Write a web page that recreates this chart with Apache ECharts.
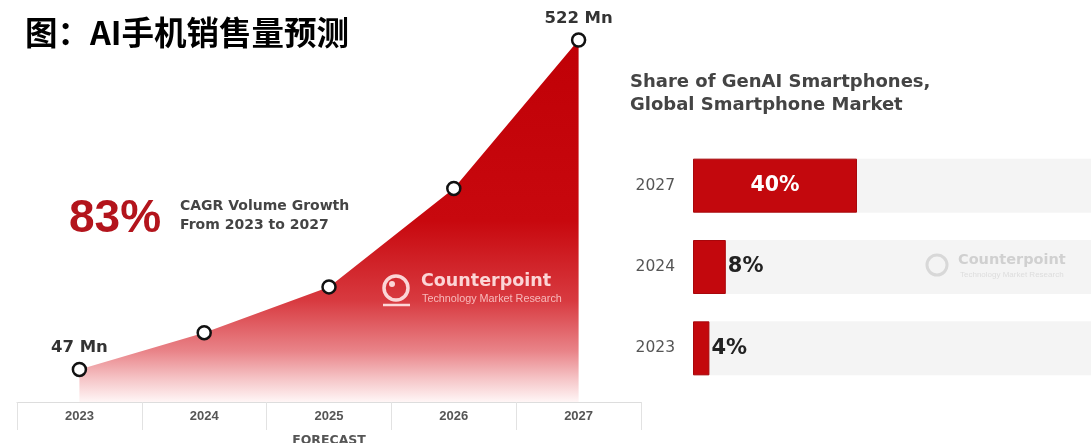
<!DOCTYPE html>
<html>
<head>
<meta charset="utf-8">
<script src="https://cdn.jsdelivr.net/npm/echarts@6/dist/echarts.min.js"></script>
<style>
  html, body { margin: 0; padding: 0; background: #fff; }
  #chart { width: 1091px; height: 443px; }
</style>
</head>
<body>
<div id="chart"></div>
<script>
// AI smartphone shipments (millions), 2023 actual to 2027 forecast
const years = ['2023', '2024', '2025', '2026', '2027'];
const shipments = [47, 100, 166, 308, 522];

// Share of GenAI smartphones in the global smartphone market (%)
const shareYears = ['2023', '2024', '2027'];
const shareValues = [4, 8, 40];

const FONT = 'Arial, "Liberation Sans", sans-serif';
const WIDE = '"DejaVu Sans", Verdana, sans-serif';
const RED = '#c3080d';
const MARK_LIGHT = 'rgba(255,232,232,0.9)';

const chart = echarts.init(document.getElementById('chart'));

const option = {
  animation: false,
  backgroundColor: '#ffffff',
  grid: [
    { left: 17, width: 624, top: 40, bottom: 41, outerBoundsMode: 'none', containLabel: false },
    { left: 693, width: 410, top: 145, height: 244, outerBoundsMode: 'none', containLabel: false }
  ],
  xAxis: [
    {
      type: 'category',
      gridIndex: 0,
      data: years,
      boundaryGap: true,
      axisLine: { lineStyle: { color: '#dddddd', width: 1 } },
      axisTick: { show: true, interval: 0, length: 28, lineStyle: { color: '#e2e2e2' } },
      axisLabel: {
        color: '#555', fontFamily: FONT, fontSize: 13, fontWeight: 'bold', margin: 8
      },
      name: 'FORECAST',
      nameLocation: 'middle',
      nameGap: 32,
      nameTextStyle: { color: '#555', fontFamily: WIDE, fontSize: 12.5, fontWeight: 'bold' }
    },
    {
      type: 'value',
      gridIndex: 1,
      min: 0,
      max: 100,
      show: false
    }
  ],
  yAxis: [
    { type: 'value', gridIndex: 0, min: 0, max: 522, show: false },
    {
      type: 'category',
      gridIndex: 1,
      data: shareYears,
      axisLine: { show: false },
      axisTick: { show: false },
      axisLabel: { color: '#555', fontFamily: WIDE, fontSize: 15.5, margin: 18 }
    }
  ],
  graphic: [
    {
      type: 'text', x: 25, y: 16, z: 100,
      style: {
        text: '图：AI手机销售量预测',
        fill: '#000', fontSize: 32.5, fontWeight: 'bold',
        fontFamily: '"Noto Sans CJK SC", sans-serif'
      }
    },
    {
      type: 'text', x: 69, y: 196, z: 100,
      style: { text: '83%', fill: '#b3141c', fontSize: 46, fontWeight: 'bold', fontFamily: FONT }
    },
    {
      type: 'text', x: 180, y: 197, z: 100,
      style: {
        text: 'CAGR Volume Growth\nFrom 2023 to 2027',
        fill: '#444', fontSize: 14, fontWeight: 'bold', lineHeight: 19, fontFamily: WIDE
      }
    },
    {
      type: 'text', x: 630, y: 71, z: 100,
      style: {
        text: 'Share of GenAI Smartphones,\nGlobal Smartphone Market',
        fill: '#444', fontSize: 18, fontWeight: 'bold', lineHeight: 23, fontFamily: WIDE
      }
    },
    // Counterpoint mark on the area
    { type: 'circle', z: 100, shape: { cx: 396, cy: 288, r: 12 },
      style: { fill: 'none', stroke: MARK_LIGHT, lineWidth: 3.5 } },
    { type: 'circle', z: 100, shape: { cx: 392, cy: 284, r: 3 },
      style: { fill: MARK_LIGHT } },
    { type: 'line', z: 100, shape: { x1: 383, y1: 305, x2: 410, y2: 305 },
      style: { stroke: MARK_LIGHT, lineWidth: 2.5 } },
    { type: 'text', z: 100, x: 421, y: 272,
      style: { text: 'Counterpoint', fill: 'rgba(255,228,228,0.92)', fontSize: 17.5,
               fontWeight: 'bold', fontFamily: WIDE } },
    { type: 'text', z: 100, x: 422, y: 294,
      style: { text: 'Technology Market Research', fill: 'rgba(255,215,215,0.8)',
               fontSize: 10.8, fontFamily: FONT } },
    // Counterpoint mark on the share panel
    { type: 'circle', z: 100, shape: { cx: 937, cy: 265, r: 10 },
      style: { fill: 'none', stroke: '#d8d8d8', lineWidth: 3 } },
    { type: 'text', z: 100, x: 958, y: 253,
      style: { text: 'Counterpoint', fill: '#d0d0d0', fontSize: 14.5,
               fontWeight: 'bold', fontFamily: WIDE } },
    { type: 'text', z: 100, x: 960, y: 271,
      style: { text: 'Technology Market Research', fill: '#dddddd',
               fontSize: 8, fontFamily: FONT } }
  ],
  series: [
    {
      type: 'line',
      xAxisIndex: 0,
      yAxisIndex: 0,
      data: shipments.map((v, i) => ({
        value: v,
        label: {
          show: i === 0 || i === shipments.length - 1,
          formatter: v + ' Mn'
        }
      })),
      symbol: 'circle',
      symbolSize: 13,
      itemStyle: { color: '#ffffff', borderColor: '#111', borderWidth: 2.5 },
      lineStyle: { width: 0, opacity: 0 },
      label: {
        position: 'top', distance: 5,
        color: '#333', fontFamily: WIDE, fontSize: 16.5, fontWeight: 'bold'
      },
      areaStyle: {
        opacity: 1,
        color: new echarts.graphic.LinearGradient(0, 0, 0, 1, [
          { offset: 0, color: '#c00006' },
          { offset: 0.5, color: '#c8080e' },
          { offset: 0.72, color: '#d83a40' },
          { offset: 0.86, color: '#e98489' },
          { offset: 0.94, color: '#f6c8ca' },
          { offset: 1, color: '#fff6f6' }
        ])
      },
      z: 3
    },
    {
      type: 'bar',
      xAxisIndex: 1,
      yAxisIndex: 1,
      data: shareValues.map((v) => ({
        value: v,
        label: v >= 20
          ? { position: 'inside', color: '#fff', fontSize: 20.5 }
          : { position: 'right', color: '#222', fontSize: 21, distance: 2 }
      })),
      barWidth: 54,
      showBackground: true,
      backgroundStyle: { color: '#f4f4f4' },
      itemStyle: { color: RED, borderColor: '#a8070b', borderWidth: 1 },
      label: {
        show: true, formatter: '{c}%', fontFamily: WIDE, fontWeight: 'bold'
      }
    }
  ]
};

chart.setOption(option);
</script>
</body>
</html>
